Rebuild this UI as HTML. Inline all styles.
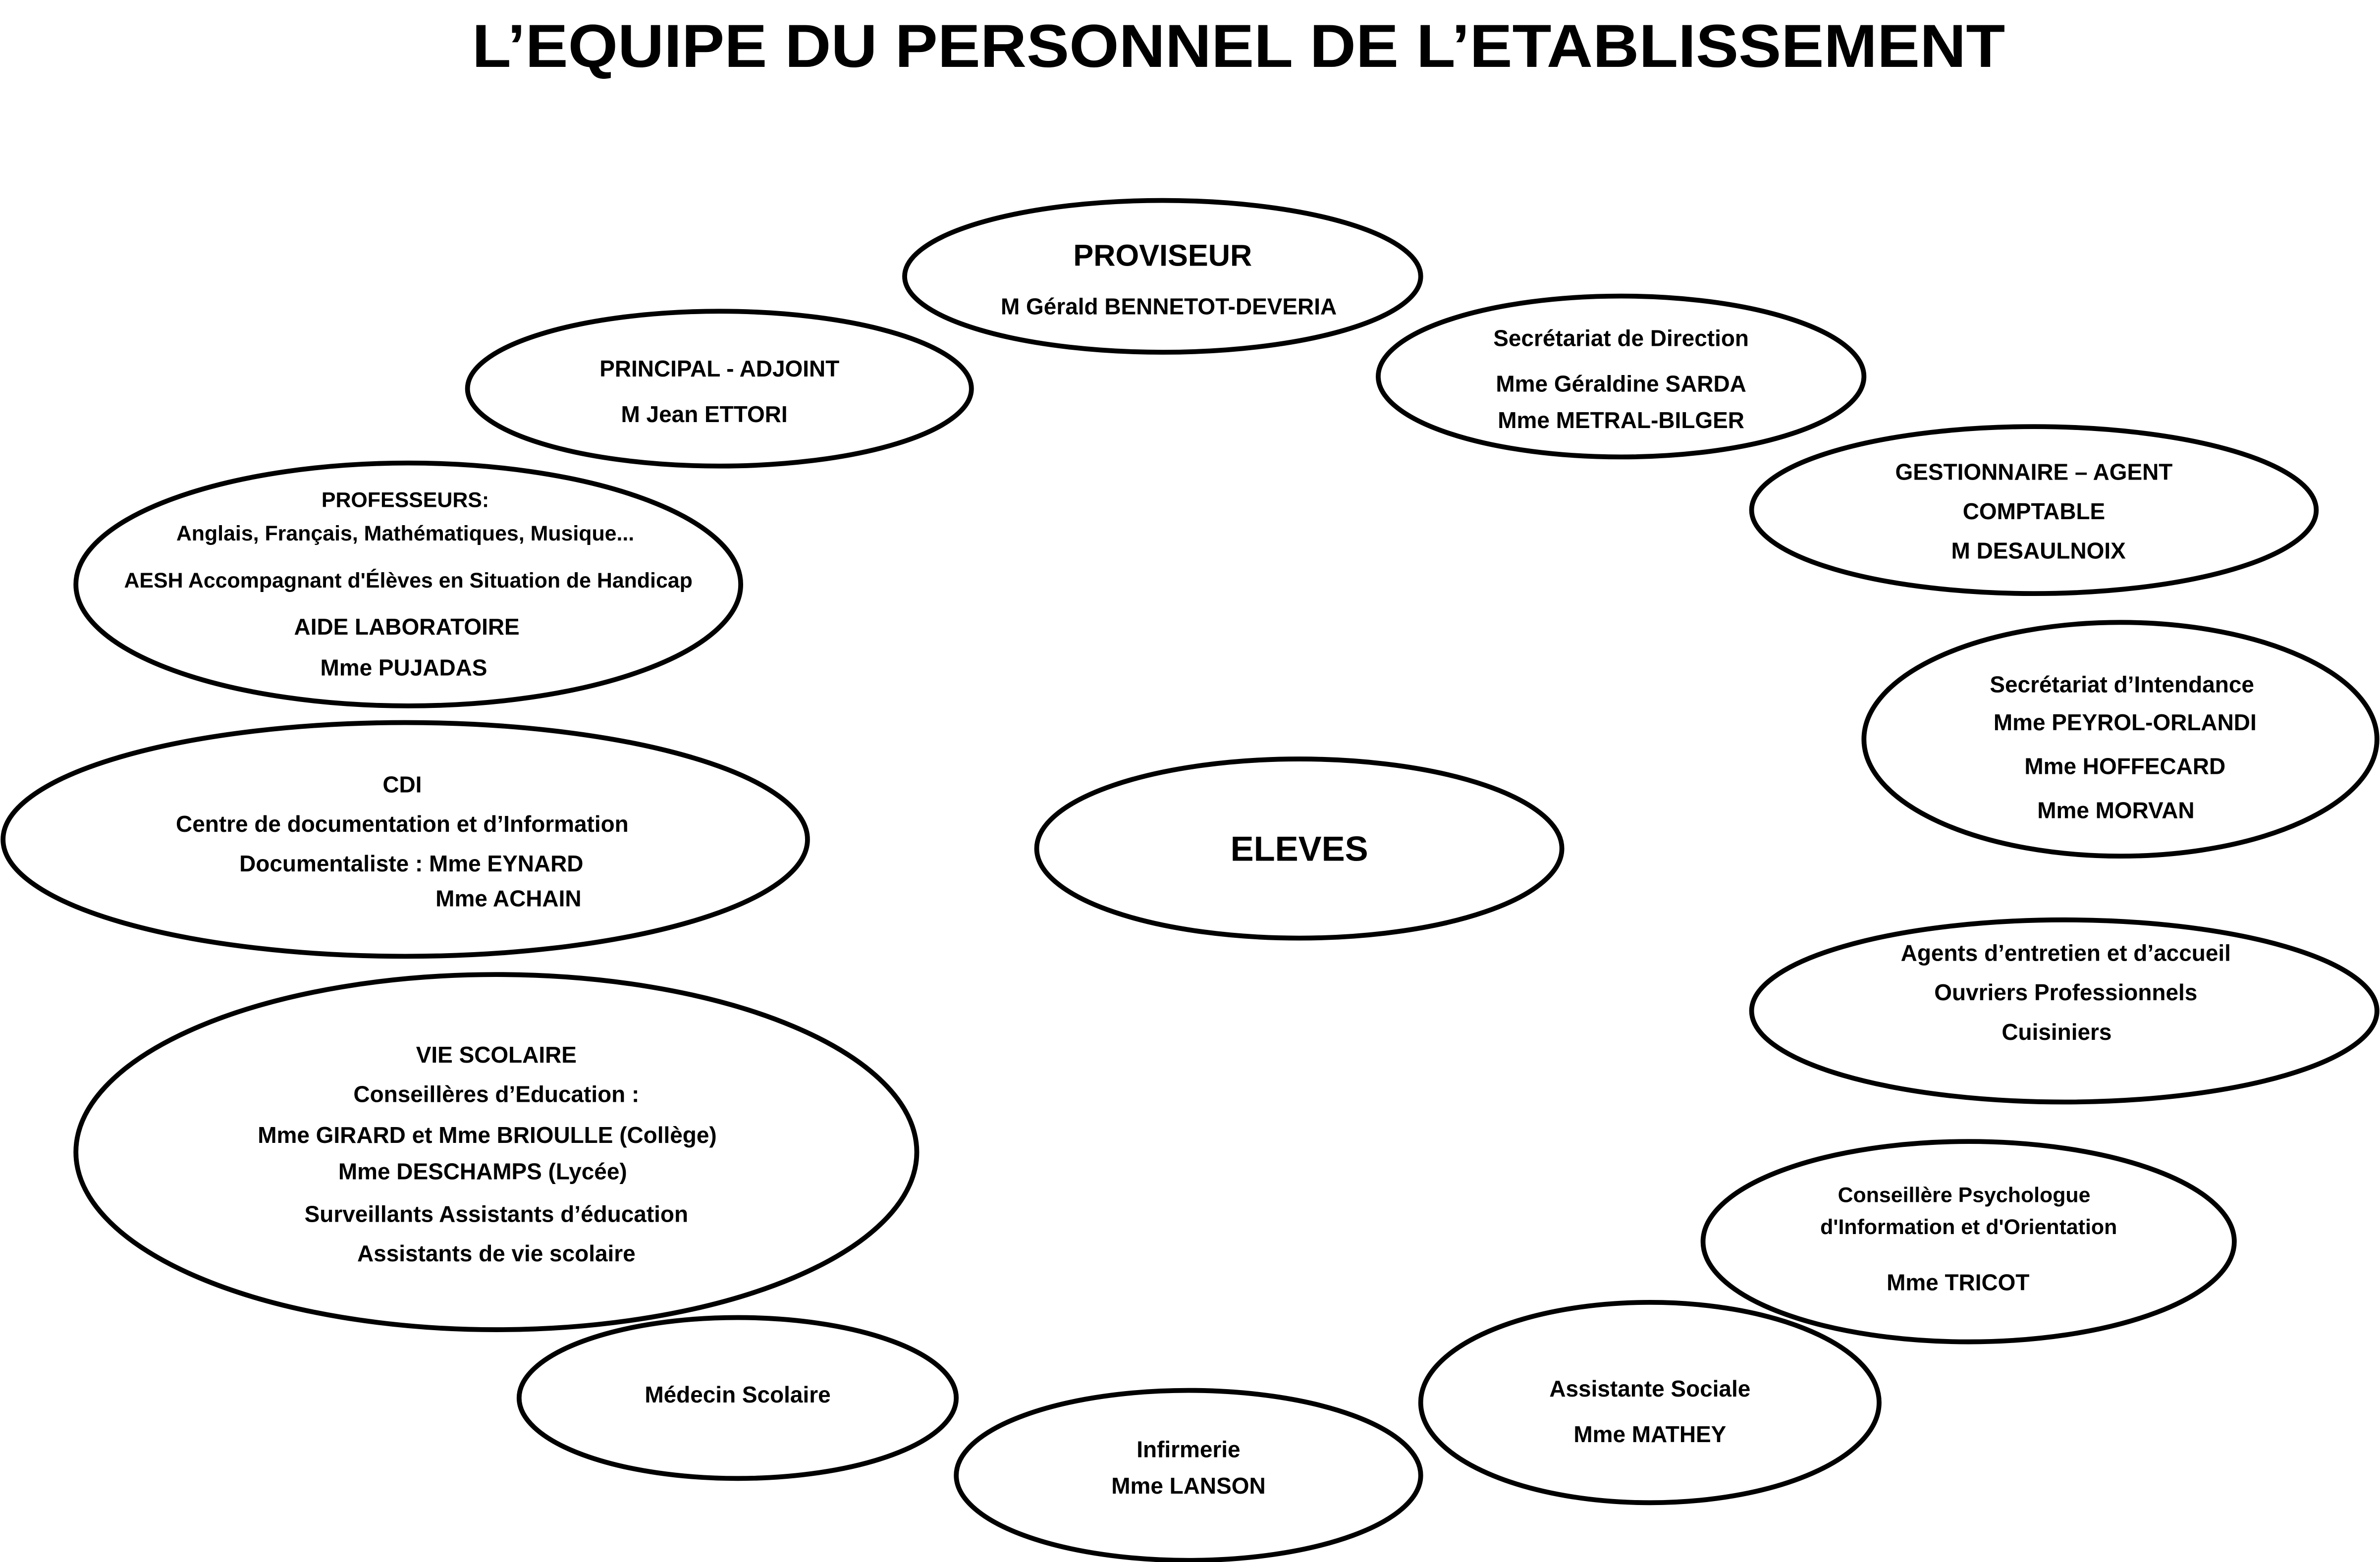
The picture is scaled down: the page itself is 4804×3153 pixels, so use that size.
<!DOCTYPE html>
<html><head><meta charset="utf-8"><style>
html,body{margin:0;padding:0;background:#fff;}
svg{display:block;}
text{font-family:"Liberation Sans",sans-serif;font-weight:bold;fill:#000;text-anchor:middle;}
ellipse{fill:#fff;stroke:#000;stroke-width:3.2;}
</style></head><body>
<svg width="4804" height="3153" viewBox="0 0 1568 1029" xmlns="http://www.w3.org/2000/svg">
<text x="816" y="44" font-size="40" textLength="1010" lengthAdjust="spacingAndGlyphs">L’EQUIPE DU PERSONNEL DE L’ETABLISSEMENT</text>

<ellipse cx="766" cy="182" rx="170" ry="50"/>
<text x="766" y="175" font-size="20">PROVISEUR</text>
<text x="770" y="207" font-size="15">M Gérald BENNETOT-DEVERIA</text>

<ellipse cx="474" cy="256" rx="166" ry="51"/>
<text x="474" y="248" font-size="15">PRINCIPAL  -  ADJOINT</text>
<text x="464" y="278" font-size="15">M Jean ETTORI</text>

<ellipse cx="1068" cy="248" rx="160" ry="53"/>
<text x="1068" y="228" font-size="15">Secrétariat de Direction</text>
<text x="1068" y="258" font-size="15">Mme Géraldine SARDA</text>
<text x="1068" y="282" font-size="15">Mme METRAL-BILGER</text>

<ellipse cx="1340" cy="336" rx="186" ry="55"/>
<text x="1340" y="316" font-size="15">GESTIONNAIRE – AGENT</text>
<text x="1340" y="342" font-size="15">COMPTABLE</text>
<text x="1343" y="368" font-size="15">M DESAULNOIX</text>

<ellipse cx="269" cy="385" rx="219" ry="80"/>
<text x="267" y="334" font-size="14">PROFESSEURS:</text>
<text x="267" y="356" font-size="14">Anglais, Français, Mathématiques, Musique...</text>
<text x="269" y="387" font-size="14">AESH Accompagnant d'Élèves en Situation de Handicap</text>
<text x="268" y="418" font-size="15">AIDE LABORATOIRE</text>
<text x="266" y="445" font-size="15">Mme PUJADAS</text>

<ellipse cx="1397" cy="487" rx="169" ry="77"/>
<text x="1398" y="456" font-size="15">Secrétariat d’Intendance</text>
<text x="1400" y="481" font-size="15">Mme PEYROL-ORLANDI</text>
<text x="1400" y="510" font-size="15">Mme HOFFECARD</text>
<text x="1394" y="539" font-size="15">Mme MORVAN</text>

<ellipse cx="267" cy="553" rx="265" ry="77"/>
<text x="265" y="522" font-size="15">CDI</text>
<text x="265" y="548" font-size="15">Centre de documentation et d’Information</text>
<text x="271" y="574" font-size="15">Documentaliste : Mme  EYNARD</text>
<text x="335" y="597" font-size="15">Mme ACHAIN</text>

<ellipse cx="856" cy="559" rx="173" ry="59"/>
<text x="856" y="567" font-size="23">ELEVES</text>

<ellipse cx="1360" cy="666" rx="206" ry="60"/>
<text x="1361" y="633" font-size="15">Agents d’entretien et d’accueil</text>
<text x="1361" y="659" font-size="15">Ouvriers Professionnels</text>
<text x="1355" y="685" font-size="15">Cuisiniers</text>

<ellipse cx="327" cy="759" rx="277" ry="117"/>
<text x="327" y="700" font-size="15">VIE SCOLAIRE</text>
<text x="327" y="726" font-size="15">Conseillères d’Education :</text>
<text x="321" y="753" font-size="15">Mme GIRARD et Mme BRIOULLE (Collège)</text>
<text x="318" y="777" font-size="15">Mme DESCHAMPS (Lycée)</text>
<text x="327" y="805" font-size="15">Surveillants Assistants d’éducation</text>
<text x="327" y="831" font-size="15">Assistants de vie scolaire</text>

<ellipse cx="1297" cy="818" rx="175" ry="66"/>
<text x="1294" y="792" font-size="14">Conseillère Psychologue</text>
<text x="1297" y="813" font-size="14">d'Information et d'Orientation</text>
<text x="1290" y="850" font-size="15">Mme TRICOT</text>

<ellipse cx="486" cy="921" rx="144" ry="53"/>
<text x="486" y="924" font-size="15">Médecin Scolaire</text>

<ellipse cx="1087" cy="924" rx="151" ry="66"/>
<text x="1087" y="920" font-size="15">Assistante Sociale</text>
<text x="1087" y="950" font-size="15">Mme MATHEY</text>

<ellipse cx="783" cy="972" rx="153" ry="56"/>
<text x="783" y="960" font-size="15">Infirmerie</text>
<text x="783" y="984" font-size="15">Mme LANSON</text>
</svg>
</body></html>
